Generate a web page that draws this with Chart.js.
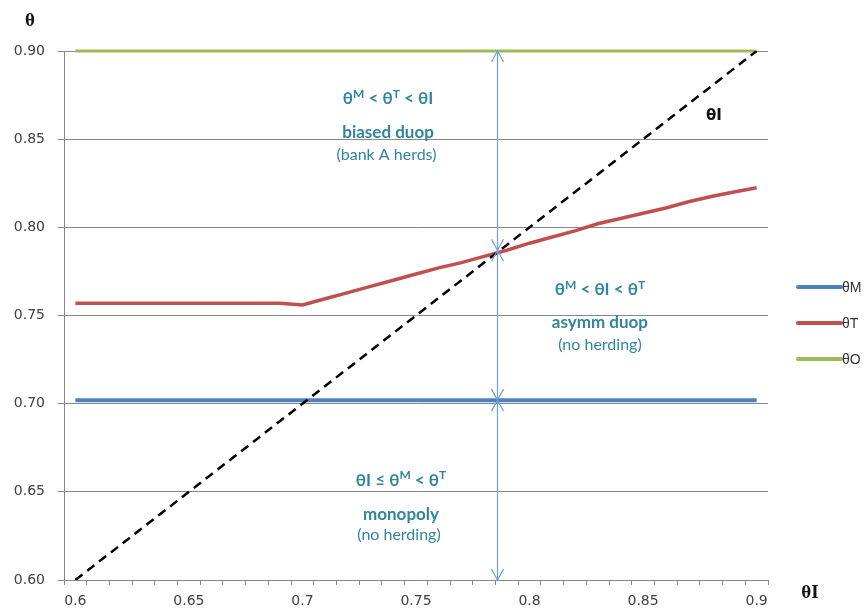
<!DOCTYPE html>
<html>
<head>
<meta charset="utf-8">
<script src="https://cdn.jsdelivr.net/npm/chart.js@4/dist/chart.umd.min.js"></script>
<style>
  html, body { margin: 0; padding: 0; background: #fff; }
  #wrap { width: 867px; height: 614px; position: relative; }
</style>
</head>
<body>
<div id="wrap"><canvas id="thetaChart"></canvas></div>
<script>
// categories: theta I
const thetaI = [0.60, 0.61, 0.62, 0.63, 0.64, 0.65, 0.66, 0.67, 0.68, 0.69,
    0.70, 0.71, 0.72, 0.73, 0.74, 0.75, 0.76, 0.77, 0.78, 0.79,
    0.80, 0.81, 0.82, 0.83, 0.84, 0.85, 0.86, 0.87, 0.88, 0.89, 0.90];

const thetaM = [0.702, 0.702, 0.702, 0.702, 0.702, 0.702, 0.702, 0.702, 0.702, 0.702,
    0.702, 0.702, 0.702, 0.702, 0.702, 0.702, 0.702, 0.702, 0.702, 0.702,
    0.702, 0.702, 0.702, 0.702, 0.702, 0.702, 0.702, 0.702, 0.702, 0.702, 0.702];

const thetaT = [0.757, 0.757, 0.757, 0.757, 0.757, 0.757, 0.757, 0.757, 0.757, 0.757,
    0.756, 0.7595, 0.763, 0.7665, 0.770, 0.7735, 0.777, 0.780, 0.7835, 0.787,
    0.791, 0.7945, 0.798, 0.802, 0.805, 0.808, 0.811, 0.8145, 0.8175, 0.820, 0.8225];

const thetaO = [0.90, 0.90, 0.90, 0.90, 0.90, 0.90, 0.90, 0.90, 0.90, 0.90,
    0.90, 0.90, 0.90, 0.90, 0.90, 0.90, 0.90, 0.90, 0.90, 0.90,
    0.90, 0.90, 0.90, 0.90, 0.90, 0.90, 0.90, 0.90, 0.90, 0.90, 0.90];

// 45 degree line theta = theta I
const diagonal = [0.60, 0.61, 0.62, 0.63, 0.64, 0.65, 0.66, 0.67, 0.68, 0.69,
    0.70, 0.71, 0.72, 0.73, 0.74, 0.75, 0.76, 0.77, 0.78, 0.79,
    0.80, 0.81, 0.82, 0.83, 0.84, 0.85, 0.86, 0.87, 0.88, 0.89, 0.90];

const yTicks = [0.60, 0.65, 0.70, 0.75, 0.80, 0.85, 0.90];

// double arrow at theta I = 0.7857, stopping at these theta values
const arrowAt = 0.7857;
const arrowStops = [0.90, 0.787, 0.702, 0.60];

/* =========================
   HELPERS
========================== */
const TEAL = "#31859c";

// index position on the category axis for a theta I value
function catIndex(v) {
    return (v - thetaI[0]) / (thetaI[1] - thetaI[0]);
}

function drawRich(ctx, parts, cx, cy, size, bold) {
    const w = bold ? "bold " : "";
    const big = `${w}${size}px Lato`;
    const small = `${w}${Math.round(size * 0.68)}px Lato`;
    let total = 0;
    parts.forEach(p => {
        ctx.font = p.sup ? small : big;
        total += ctx.measureText(p.t).width;
    });
    let x = cx - total / 2;
    ctx.textAlign = "left";
    ctx.textBaseline = "middle";
    parts.forEach(p => {
        ctx.font = p.sup ? small : big;
        ctx.fillText(p.t, x, p.sup ? cy - size * 0.26 : cy);
        x += ctx.measureText(p.t).width;
    });
}

function arrowHead(ctx, x, y, dir) {
    // dir = -1 points up, +1 points down
    ctx.beginPath();
    ctx.moveTo(x - 6, y - dir * 11);
    ctx.lineTo(x, y);
    ctx.lineTo(x + 6, y - dir * 11);
    ctx.stroke();
}

const regionTexts = [
    { x: 0.7377, y: 0.8733, parts: [{ t: "θ" }, { t: "M", sup: true }, { t: " < θ" }, { t: "T", sup: true }, { t: " < θI" }], size: 17, bold: true },
    { x: 0.7377, y: 0.8538, parts: [{ t: "biased duop" }], size: 17, bold: true },
    { x: 0.7370, y: 0.8413, parts: [{ t: "(bank A herds)" }], size: 16, bold: false },
    { x: 0.8310, y: 0.7650, parts: [{ t: "θ" }, { t: "M", sup: true }, { t: " < θI < θ" }, { t: "T", sup: true }], size: 17, bold: true },
    { x: 0.8310, y: 0.7458, parts: [{ t: "asymm duop" }], size: 17, bold: true },
    { x: 0.8310, y: 0.7333, parts: [{ t: "(no herding)" }], size: 16, bold: false },
    { x: 0.7434, y: 0.6567, parts: [{ t: "θI ≤ θ" }, { t: "M", sup: true }, { t: " < θ" }, { t: "T", sup: true }], size: 17, bold: true },
    { x: 0.7434, y: 0.6369, parts: [{ t: "monopoly" }], size: 17, bold: true },
    { x: 0.7425, y: 0.6255, parts: [{ t: "(no herding)" }], size: 16, bold: false }
];

/* =========================
   ANNOTATIONS PLUGIN
========================== */
const annotations = {
    id: "annotations",
    afterDatasetsDraw(chart) {
        const { ctx, scales: { x, y } } = chart;
        ctx.save();

        // double arrows
        const ax = Math.round(x.getPixelForValue(catIndex(arrowAt))) + 0.5;
        ctx.strokeStyle = "#6e9fd6";
        ctx.lineWidth = 1.2;
        ctx.beginPath();
        ctx.moveTo(ax, y.getPixelForValue(arrowStops[0]));
        ctx.lineTo(ax, y.getPixelForValue(arrowStops[arrowStops.length - 1]));
        ctx.stroke();
        arrowStops.forEach((s, i) => {
            const py = y.getPixelForValue(s);
            if (i > 0) arrowHead(ctx, ax, py, 1);
            if (i < arrowStops.length - 1) arrowHead(ctx, ax, py, -1);
        });

        // region labels
        ctx.fillStyle = TEAL;
        regionTexts.forEach(r => {
            drawRich(ctx, r.parts, x.getPixelForValue(catIndex(r.x)), y.getPixelForValue(r.y), r.size, r.bold);
        });

        // label of the diagonal
        ctx.fillStyle = "#111";
        ctx.font = "bold 15px 'DejaVu Sans'";
        ctx.textAlign = "center";
        ctx.textBaseline = "middle";
        ctx.fillText("θI", x.getPixelForValue(catIndex(0.8812)), y.getPixelForValue(0.8631));

        // axis titles
        ctx.font = "bold 19px 'Liberation Serif'";
        ctx.fillText("θ", 30, 21);
        ctx.fillText("θI", 810, 593);

        // legend
        const items = chart.data.datasets.filter(d => d.inLegend);
        items.forEach((d, i) => {
            const ly = 287 + i * 36;
            ctx.strokeStyle = d.borderColor;
            ctx.lineWidth = 4;
            ctx.lineCap = "round";
            ctx.beginPath();
            ctx.moveTo(798, ly);
            ctx.lineTo(841, ly);
            ctx.stroke();
            ctx.fillStyle = "#333";
            ctx.font = "14px 'Liberation Sans'";
            ctx.textAlign = "left";
            ctx.fillText(d.label, 842, ly + 1);
        });
        ctx.restore();
    }
};

/* =========================
   CHART
========================== */
const GRID = "#888888";

new Chart(document.getElementById("thetaChart"), {
    type: "line",
    data: {
        labels: thetaI,
        datasets: [
            { label: "θI", data: diagonal, borderColor: "#000", borderWidth: 2.5, borderDash: [9, 6], pointRadius: 0, order: 0, inLegend: false },
            { label: "θM", data: thetaM, borderColor: "#4f81bd", borderWidth: 4, pointRadius: 0, order: 2, inLegend: true },
            { label: "θT", data: thetaT, borderColor: "#c0504d", borderWidth: 3.5, pointRadius: 0, order: 1, inLegend: true },
            { label: "θO", data: thetaO, borderColor: "#9bbb59", borderWidth: 3, pointRadius: 0, order: 3, inLegend: true, clip: 6 }
        ]
    },
    options: {
        responsive: true,
        maintainAspectRatio: false,
        animation: false,
        devicePixelRatio: 1,
        layout: { padding: { top: 51, right: 99, bottom: 0, left: 0 } },
        plugins: {
            legend: { display: false },
            tooltip: { enabled: false }
        },
        scales: {
            x: {
                type: "category",
                offset: true,
                grid: { display: true, drawOnChartArea: false, drawTicks: true, tickLength: 5, offset: true, color: GRID },
                border: { color: GRID, width: 1 },
                ticks: {
                    autoSkip: false,
                    maxRotation: 0,
                    padding: 8,
                    color: "#404040",
                    font: { family: "DejaVu Sans", size: 14 },
                    callback: (v, i) => (i % 5 === 0 ? String(thetaI[i]) : "")
                },
                afterFit: (scale) => { scale.height = 34; }
            },
            y: {
                min: 0.6,
                max: 0.9,
                grid: { color: GRID, lineWidth: 1, tickLength: 6 },
                border: { color: GRID, width: 1 },
                ticks: {
                    color: "#404040",
                    padding: 13,
                    font: { family: "DejaVu Sans", size: 14 },
                    callback: (v) => v.toFixed(2)
                },
                afterBuildTicks: (scale) => { scale.ticks = yTicks.map(v => ({ value: v })); },
                afterFit: (scale) => { scale.width = 64; }
            }
        }
    },
    plugins: [annotations]
});
</script>
</body>
</html>
